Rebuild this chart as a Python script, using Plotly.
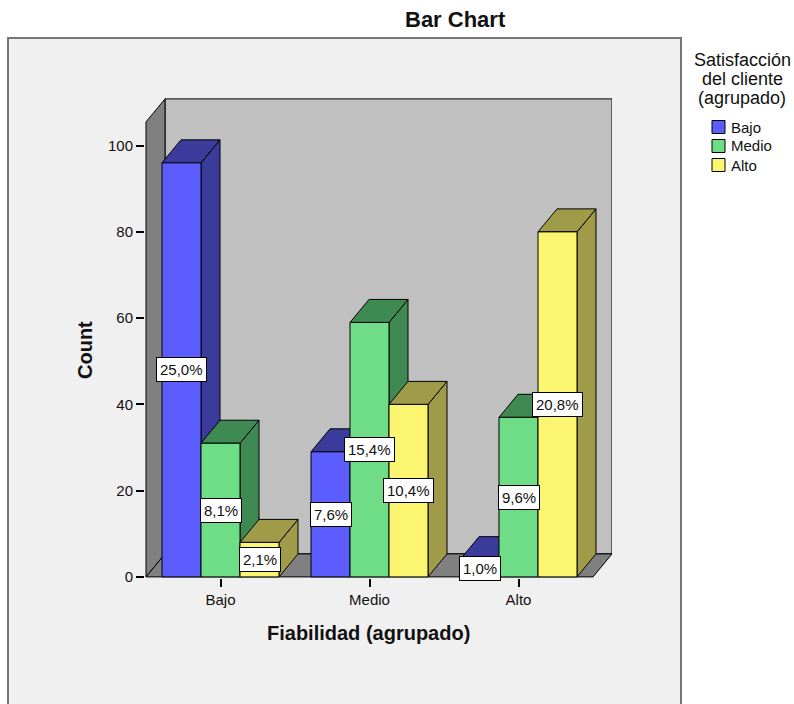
import plotly.graph_objects as go

# ---- data -------------------------------------------------------------
categories = ["Bajo", "Medio", "Alto"]            # Fiabilidad (agrupado)
series_names = ["Bajo", "Medio", "Alto"]          # Satisfacción del cliente (agrupado)
counts_bajo = [96, 29, 4]
counts_medio = [31, 59, 37]
counts_alto = [8, 40, 80]
y_ticks = [0, 20, 40, 60, 80, 100]

series_counts = [counts_bajo, counts_medio, counts_alto]
total = sum(sum(s) for s in series_counts)

front_colors = ["#5b5dff", "#6fdc86", "#fbf56f"]
shade_colors = ["#3b3b9c", "#3f8a53", "#9f9b48"]

# ---- geometry ---------------------------------------------------------
W_FIG, H_FIG = 794, 704
L, R, T, B = 145, 182, 97, 126
PW = W_FIG - L - R
PH = H_FIG - T - B
PX_PER_CAT = 149.0
PX_PER_UNIT = 4.313
XMIN = -0.5 - 1.0 / PX_PER_CAT
XMAX = XMIN + PW / PX_PER_CAT
YMIN = -0.25
YMAX = YMIN + PH / PX_PER_UNIT

DX = 19.0 / PX_PER_CAT        # depth offset, horizontal
DY = 23.0 / PX_PER_UNIT       # depth offset, vertical
BAR_W = 39.0 / PX_PER_CAT
WALL_TOP = 105.5


def px_x(px):
    return (px - L) / PW


def px_y(py):
    return (T + PH - py) / PH


fig = go.Figure()


def poly(xs, ys, fill):
    fig.add_trace(go.Scatter(
        x=xs + [xs[0]], y=ys + [ys[0]], mode="lines", fill="toself",
        fillcolor=fill, line=dict(color="black", width=1),
        hoverinfo="skip", showlegend=False))


# walls and floor
x_l, x_r = -0.5, 2.5
poly([x_l + DX, x_r + DX, x_r + DX, x_l + DX], [DY, DY, WALL_TOP + DY, WALL_TOP + DY], "#c0c0c0")
poly([x_l, x_l, x_l + DX, x_l + DX], [0, WALL_TOP, WALL_TOP + DY, DY], "#808080")
poly([x_l, x_r, x_r + DX, x_l + DX], [0, 0, DY, DY], "#808080")

# 3D bars, drawn left to right so nearer faces cover the sides behind
annotations = []
for ci, cat in enumerate(categories):
    for si in range(3):
        v = series_counts[si][ci]
        x0 = ci + (si - 1) * BAR_W - BAR_W / 2
        x1 = x0 + BAR_W
        poly([x1, x1, x1 + DX, x1 + DX], [0, v, v + DY, DY], shade_colors[si])
        poly([x0, x1, x1 + DX, x0 + DX], [v, v, v + DY, v + DY], shade_colors[si])
        poly([x0, x1, x1, x0], [0, 0, v, v], front_colors[si])
        pct = f"{100 * v / total:.1f}%".replace(".", ",")
        annotations.append(dict(
            x=(x0 + x1) / 2, y=v / 2, xref="x", yref="y", text=pct, showarrow=False,
            xanchor="center", yanchor="middle",
            font=dict(family="Liberation Sans, Arial", size=15, color="#111"),
            bgcolor="white", bordercolor="black", borderwidth=1, borderpad=3))


def paper_text(px, py, text, size, family, **kw):
    d = dict(x=px_x(px), y=px_y(py), xref="paper", yref="paper", text=text,
             showarrow=False, xanchor="center", yanchor="middle",
             font=dict(family=family, size=size, color="#111"))
    d.update(kw)
    annotations.append(d)


# titles
bold_font = "Liberation Sans, Arial"
paper_text(455, 19, "<b>Bar Chart</b>", 22, bold_font)
paper_text(368, 633, "<b>Fiabilidad (agrupado)</b>", 20, bold_font)
paper_text(85, 350, "<b>Count</b>", 20, bold_font, textangle=-90)

# legend
reg = "Liberation Sans, Arial"
for line, py in zip(["Satisfacción", "del cliente", "(agrupado)"], [60, 79, 98]):
    paper_text(742, py, line, 18, reg)

shapes = [
    # outer chart frame
    dict(type="rect", xref="paper", yref="paper", layer="below",
         x0=px_x(8), x1=px_x(681), y0=px_y(730), y1=px_y(38),
         fillcolor="#f0f0f0", line=dict(color="#767676", width=2)),
]
for si, (name, py) in enumerate(zip(series_names, [127, 146, 165])):
    shapes.append(dict(type="rect", xref="paper", yref="paper",
                       x0=px_x(712), x1=px_x(725), y0=px_y(py + 6.5), y1=px_y(py - 6.5),
                       fillcolor=front_colors[si], line=dict(color="black", width=1)))
    paper_text(729, py, name, 15, reg, xanchor="left")

fig.update_layout(
    width=W_FIG, height=H_FIG,
    margin=dict(l=L, r=R, t=T, b=B, pad=0),
    paper_bgcolor="white", plot_bgcolor="rgba(0,0,0,0)",
    showlegend=False,
    shapes=shapes, annotations=annotations,
    xaxis=dict(range=[XMIN, XMAX], tickvals=[0, 1, 2], ticktext=categories,
               showgrid=False, zeroline=False, showline=False,
               ticks="outside", ticklen=8, tickwidth=1.5, tickcolor="black",
               tickfont=dict(family=reg, size=15, color="#111"), fixedrange=True),
    yaxis=dict(range=[YMIN, YMAX], tickvals=y_ticks,
               showgrid=False, zeroline=False, showline=False,
               ticks="outside", ticklen=8, tickwidth=1.5, tickcolor="black",
               tickfont=dict(family=reg, size=15, color="#111"), fixedrange=True),
)

fig.write_html("out.html")
